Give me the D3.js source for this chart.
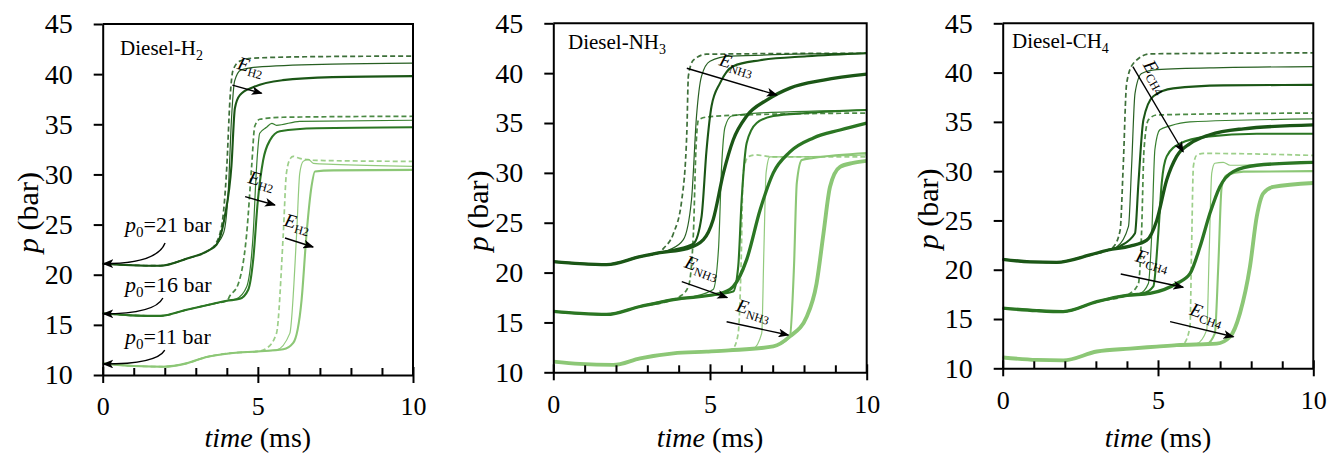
<!DOCTYPE html>
<html>
<head>
<meta charset="utf-8">
<script src="https://cdn.jsdelivr.net/npm/d3@7"></script>
<style>
  body { margin: 0; background: #fff; }
  svg text { font-family: "Liberation Serif", "Times New Roman", serif; }
</style>
</head>
<body>
<svg id="chart" width="1343" height="454"></svg>
<script>
// ---- data: [time (ms), p (bar)] ----
// Diesel-H2
const h2Base21 = [[0,21.1],[0.9,20.95],[1.85,20.9],[2.7,21.6],[3.4,22.4]];
const h2Dash21 = [[3.6,22.9],[3.83,24.8],[4.0,30.8],[4.1,37.4],[4.2,40.4],[4.42,41.3],[4.85,41.6],[7,41.75],[10,41.8]];
const h2Thin21 = [[3.62,22.9],[3.9,24.2],[4.05,28.5],[4.15,35.5],[4.25,39.3],[4.45,40.4],[4.96,40.7],[7.4,41.0],[10,41.1]];
const h2Thick21 = [[3.67,23.0],[3.94,25.9],[4.15,30.9],[4.26,36.6],[4.42,37.9],[4.85,38.7],[5.8,39.4],[7.4,39.7],[10,39.8]];
const h2Base16 = [[0,16.15],[0.9,15.95],[1.85,15.9],[2.7,16.5],[3.56,17.1],[4.0,17.4]];
const h2Dash16 = [[4.1,17.9],[4.37,19.1],[4.64,24.1],[4.8,30.8],[4.9,34.8],[5.06,35.5],[5.8,35.7],[10,35.8]];
const h2Thin16 = [[4.31,17.6],[4.64,18.8],[4.85,24.1],[4.96,30.8],[5.06,34.1],[5.28,34.7],[5.45,35.1],[5.6,34.9],[6.35,35.3],[10,35.4]];
const h2Thick16 = [[4.42,17.6],[4.69,18.5],[4.85,21.5],[5.0,27.4],[5.17,31.4],[5.39,33.4],[5.71,34.3],[6.89,34.6],[10,34.7]];
const h2Base11 = [[0,11.16],[0.99,10.9],[1.95,10.83],[2.7,11.16],[3.35,11.8],[4.2,12.2],[5.0,12.35]];
const h2Dash11 = [[5.28,12.66],[5.6,14.15],[5.82,24.1],[5.92,30.1],[6.05,31.6],[6.14,31.8],[6.35,31.6],[6.89,31.4],[10,31.3]];
const h2Thin11 = [[5.6,12.5],[6.03,14.15],[6.25,24.1],[6.35,30.1],[6.46,31.3],[6.63,31.5],[6.79,31.1],[7.43,31.0],[10,30.8]];
const h2Thick11 = [[5.82,12.56],[6.14,13.2],[6.41,17.5],[6.57,24.1],[6.73,28.8],[6.84,30.3],[7.43,30.4],[10,30.45]];

// Diesel-NH3
const nh3Base21 = [[0,21.1],[0.85,20.9],[1.7,20.8],[2.77,21.6],[3.4,22.0]];
const nh3Dash21 = [[3.51,22.4],[3.83,23.9],[4.1,27.3],[4.26,34.0],[4.31,39.7],[4.47,41.3],[4.89,41.9],[10,42.0]];
const nh3Thin21 = [[3.72,22.3],[4.15,23.3],[4.41,27.3],[4.57,35.7],[4.73,39.7],[5.0,41.2],[5.64,41.7],[10,42.0]];
const nh3Mid21 = [[3.83,22.3],[4.47,22.9],[4.73,25.6],[4.89,32.3],[5.05,36.7],[5.32,39.0],[5.74,40.7],[6.6,41.3],[8.09,41.7],[10,42.0]];
const nh3Thick21 = [[4.26,22.4],[4.79,23.3],[5.1,25.3],[5.43,30.0],[5.74,33.3],[6.17,35.7],[6.81,37.3],[7.55,38.5],[8.62,39.3],[10,39.9]];
const nh3Base16 = [[0,16.1],[0.85,15.9],[1.7,15.8],[2.77,16.6],[3.83,17.3]];
const nh3Dash16 = [[4.04,17.6],[4.31,18.6],[4.47,23.9],[4.55,32.3],[4.63,35.3],[4.89,35.6],[5.96,35.8],[10,36.0]];
const nh3Thin16 = [[4.47,17.6],[5.1,18.3],[5.27,22.3],[5.37,30.6],[5.48,34.6],[5.69,35.7],[6.49,36.0],[10,36.3]];
const nh3Mid16 = [[4.68,17.6],[5.74,18.1],[5.9,20.6],[6.01,27.3],[6.17,33.0],[6.49,35.0],[7.02,35.7],[8.09,36.0],[10,36.3]];
const nh3Thick16 = [[5.32,17.9],[5.74,18.6],[6.17,21.3],[6.6,26.3],[7.02,30.0],[7.55,32.1],[8.3,33.5],[9.15,34.3],[10,35.0]];
const nh3Base11 = [[0,11.07],[0.85,10.84],[1.91,10.74],[2.77,11.4],[3.83,11.9],[4.89,12.07],[5.6,12.2]];
const nh3Dash11 = [[5.74,12.4],[5.9,13.9],[5.99,20.6],[6.06,30.0],[6.22,31.6],[6.44,31.8],[7.02,31.6],[10,31.6]];
const nh3Thin11 = [[6.38,12.4],[6.65,13.9],[6.72,22.3],[6.79,30.0],[6.91,31.6],[7.55,31.6],[10,31.8]];
const nh3Mid11 = [[7.02,12.6],[7.55,13.6],[7.68,20.6],[7.77,29.0],[7.93,31.3],[8.3,31.5],[10,32.0]];
const nh3Thick11 = [[7.02,12.6],[7.55,13.6],[8.09,15.6],[8.4,18.9],[8.62,23.9],[8.83,28.6],[9.15,30.6],[9.57,31.0],[10,31.2]];

// Diesel-CH4
const ch4Base21 = [[0,21.06],[0.88,20.8],[1.74,20.75],[2.81,21.5],[3.4,22.0]];
const ch4Dash21 = [[3.56,22.3],[3.78,24.0],[3.88,30.5],[3.99,38.9],[4.2,40.9],[4.74,41.9],[10,42.0]];
const ch4Thin21 = [[3.67,22.3],[4.05,24.4],[4.15,30.5],[4.26,37.9],[4.47,39.9],[4.96,40.3],[7.1,40.5],[10,40.6]];
const ch4Mid21 = [[3.78,22.4],[4.26,23.7],[4.37,28.8],[4.53,35.2],[4.85,37.6],[5.49,38.4],[7.1,38.7],[10,38.75]];
const ch4Thick21 = [[4.1,22.4],[4.64,23.0],[4.96,25.0],[5.28,29.1],[5.6,31.5],[6.03,32.8],[6.67,33.7],[7.75,34.3],[10,34.7]];
const ch4Base16 = [[0,16.1],[1.09,15.85],[1.95,15.75],[3.03,16.76],[4.0,17.4]];
const ch4Dash16 = [[4.1,17.6],[4.37,18.6],[4.47,23.7],[4.55,32.2],[4.69,35.2],[4.96,35.7],[10,35.9]];
const ch4Thin16 = [[4.42,17.6],[4.69,18.6],[4.8,23.7],[4.9,32.2],[5.06,34.2],[5.39,34.6],[6.03,35.0],[10,35.3]];
const ch4Mid16 = [[4.53,17.6],[4.85,18.3],[5.01,23.7],[5.12,28.8],[5.28,31.5],[5.71,32.8],[6.57,33.5],[8.18,33.8],[10,33.8]];
const ch4Thick16 = [[4.74,17.6],[5.6,18.6],[6.03,19.6],[6.35,22.3],[6.67,25.7],[6.99,28.4],[7.42,29.95],[8.18,30.6],[10,30.9]];
const ch4Base11 = [[0,11.1],[1.09,10.85],[1.95,10.8],[3.03,11.7],[4.1,12.0],[4.96,12.2],[5.6,12.35]];
const ch4Dash11 = [[5.82,12.5],[6.03,14.2],[6.08,22.0],[6.14,30.5],[6.24,31.6],[6.46,31.8],[10,31.6]];
const ch4Thin11 = [[6.24,12.5],[6.57,13.9],[6.65,22.0],[6.73,29.8],[6.83,30.8],[7.1,30.9],[7.32,30.6],[10,30.8]];
const ch4Mid11 = [[6.57,12.5],[6.83,13.55],[6.94,20.3],[7.05,28.4],[7.21,29.6],[7.75,29.95],[10,30.0]];
const ch4Thick11 = [[6.89,12.5],[7.32,13.2],[7.64,15.6],[7.96,20.3],[8.18,25.4],[8.39,27.75],[8.71,28.4],[10,28.8]];

const yTicks = [10, 15, 20, 25, 30, 35, 40, 45];
const xTicks = [0, 1, 2, 3, 4, 5, 6, 7, 8, 9, 10];
const xLabels = [0, 5, 10];

// ---- look ----
const serif = "'Liberation Serif', 'Times New Roman', serif";
const groupColor = {"21": "#1b5616", "16": "#2b7623", "11": "#8cc776"};
const lineStyle = {
  dash:  {w: 1.7, dash: "5,3", op: 0.85},
  thin:  {w: 1.2, dash: null, op: 0.95},
  mid:   {w: 2.1, dash: null, op: 1},
  thick: {w: 3.3, dash: null, op: 1}
};

const svg = d3.select("#chart");
svg.append("defs").append("marker")
  .attr("id", "arr")
  .attr("viewBox", "0 0 10 8")
  .attr("refX", 9).attr("refY", 4)
  .attr("markerWidth", 11).attr("markerHeight", 9)
  .attr("markerUnits", "userSpaceOnUse")
  .attr("orient", "auto")
  .append("path")
  .attr("d", "M0,0 L10,4 L0,8 L2.5,4 Z")
  .attr("fill", "#000");

const panels = [
  {left: 102.7, right: 413, top: 24, bottom: 375, gas: "H", sub: "2", eSub: "H2",
   curves: [
     [h2Base21, h2Dash21, "21", "dash"], [h2Base21, h2Thin21, "21", "thin"], [h2Base21, h2Thick21, "21", "mid"],
     [h2Base16, h2Dash16, "16", "dash"], [h2Base16, h2Thin16, "16", "thin"], [h2Base16, h2Thick16, "16", "mid"],
     [h2Base11, h2Dash11, "11", "dash"], [h2Base11, h2Thin11, "11", "thin"], [h2Base11, h2Thick11, "11", "mid"]
   ],
   label: [0.56, 41.9],
   arrows: [  // [t0, p0, t1, p1, labelT, labelP, rotation]
     [4.18, 38.91, 5.12, 38.09, 4.72, 40.2, 15],
     [4.59, 27.78, 5.55, 26.95, 5.07, 28.84, 15],
     [5.875, 23.66, 6.78, 22.76, 6.23, 24.56, 15]
   ],
   p0: [[21, 0.72, 24.26, 2.01, 23.16], [16, 0.72, 18.28, 1.94, 17.68], [11, 0.72, 13.09, 2.0, 12.49]]
  },
  {left: 553.3, right: 866.7, top: 23.3, bottom: 372.3, gas: "NH", sub: "3", eSub: "NH3",
   curves: [
     [nh3Base21, nh3Dash21, "21", "dash"], [nh3Base21, nh3Thin21, "21", "thin"], [nh3Base21, nh3Mid21, "21", "mid"], [nh3Base21, nh3Thick21, "21", "thick"],
     [nh3Base16, nh3Dash16, "16", "dash"], [nh3Base16, nh3Thin16, "16", "thin"], [nh3Base16, nh3Mid16, "16", "mid"], [nh3Base16, nh3Thick16, "16", "thick"],
     [nh3Base11, nh3Dash11, "11", "dash"], [nh3Base11, nh3Thin11, "11", "thin"], [nh3Base11, nh3Mid11, "11", "mid"], [nh3Base11, nh3Thick11, "11", "thick"]
   ],
   label: [0.47, 42.4],
   arrows: [
     [4.26, 40.49, 7.13, 37.81, 5.8, 40.3, 17],
     [4.1, 19.09, 5.55, 17.48, 4.68, 19.96, 20],
     [5.53, 15.07, 7.5, 13.74, 6.34, 15.65, 17]
   ],
   p0: []
  },
  {left: 1002.7, right: 1313.3, top: 23.3, bottom: 368.3, gas: "CH", sub: "4", eSub: "CH4",
   curves: [
     [ch4Base21, ch4Dash21, "21", "dash"], [ch4Base21, ch4Thin21, "21", "thin"], [ch4Base21, ch4Mid21, "21", "mid"], [ch4Base21, ch4Thick21, "21", "thick"],
     [ch4Base16, ch4Dash16, "16", "dash"], [ch4Base16, ch4Thin16, "16", "thin"], [ch4Base16, ch4Mid16, "16", "mid"], [ch4Base16, ch4Thick16, "16", "thick"],
     [ch4Base11, ch4Dash11, "11", "dash"], [ch4Base11, ch4Thin11, "11", "thin"], [ch4Base11, ch4Mid11, "11", "mid"], [ch4Base11, ch4Thick11, "11", "thick"]
   ],
   label: [0.3, 42.5],
   arrows: [
     [4.19, 40.6, 5.81, 31.97, 4.78, 39.3, 60],
     [3.8, 19.57, 5.81, 18.22, 4.77, 20.38, 17],
     [5.39, 14.73, 7.43, 13.2, 6.51, 14.9, 20]
   ],
   p0: []
  }
];

panels.forEach(drawPanel);

function drawPanel(cfg) {
  const x = d3.scaleLinear().domain([0, 10]).range([cfg.left, cfg.right]);
  const y = d3.scaleLinear().domain([10, 45]).range([cfg.bottom, cfg.top]);
  const g = svg.append("g");

  const line = d3.line()
    .x(d => x(d[0]))
    .y(d => y(d[1]))
    .curve(d3.curveMonotoneX);

  // light groups first so the dark ones sit on top
  ["11", "16", "21"].forEach(grp => {
    cfg.curves.filter(c => c[2] === grp).forEach(c => {
      const st = lineStyle[c[3]];
      let w = st.w;
      if (c[3] === "thick" && grp === "11") w = 3.9;
      g.append("path")
        .attr("d", line(c[0].concat(c[1])))
        .attr("fill", "none")
        .attr("stroke", groupColor[grp])
        .attr("stroke-width", w)
        .attr("stroke-opacity", st.op)
        .attr("stroke-dasharray", st.dash)
        .attr("stroke-linejoin", "round");
    });
  });

  // frame (top and right)
  g.append("path")
    .attr("d", `M${x(0)},${y(45)}H${x(10)}V${y(10)}`)
    .attr("fill", "none").attr("stroke", "#000").attr("stroke-width", 2);

  // x axis
  const xAxis = g.append("g")
    .attr("transform", `translate(0,${y(10)})`)
    .call(d3.axisBottom(x).tickValues(xTicks).tickSizeInner(-7).tickSizeOuter(0).tickPadding(22)
      .tickFormat(d => xLabels.includes(d) ? d : ""))
    .attr("font-family", serif).attr("font-size", 26);
  xAxis.select(".domain").attr("stroke-width", 2);
  xAxis.selectAll(".tick line")
    .attr("stroke-width", 2)
    .attr("y1", d => xLabels.includes(d) ? 8 : 0)
    .attr("y2", d => xLabels.includes(d) ? -8 : -7);

  // y axis
  const yAxis = g.append("g")
    .attr("transform", `translate(${x(0)},0)`)
    .call(d3.axisLeft(y).tickValues(yTicks).tickSizeInner(9).tickSizeOuter(0).tickPadding(21))
    .attr("font-family", serif).attr("font-size", 28);
  yAxis.select(".domain").attr("stroke-width", 2);
  yAxis.selectAll(".tick line").attr("stroke-width", 2);

  // axis titles
  const xt = g.append("text")
    .attr("x", (x(0) + x(10)) / 2).attr("y", 447)
    .attr("text-anchor", "middle").attr("font-size", 28);
  xt.append("tspan").attr("font-style", "italic").text("time");
  xt.append("tspan").text(" (ms)");

  const yt = g.append("text")
    .attr("transform", `translate(${x(0) - 65},${(y(10) + y(45)) / 2 + 13}) rotate(-90)`)
    .attr("text-anchor", "middle").attr("font-size", 30);
  yt.append("tspan").attr("font-style", "italic").text("p");
  yt.append("tspan").text(" (bar)");

  // panel label
  const lab = g.append("text")
    .attr("x", x(cfg.label[0])).attr("y", y(cfg.label[1]))
    .attr("font-size", 21);
  lab.append("tspan").text("Diesel-" + cfg.gas);
  lab.append("tspan").attr("font-size", 14).attr("dy", 5).text(cfg.sub);

  // E arrows
  cfg.arrows.forEach(a => {
    g.append("line")
      .attr("x1", x(a[0])).attr("y1", y(a[1]))
      .attr("x2", x(a[2])).attr("y2", y(a[3]))
      .attr("stroke", "#000").attr("stroke-width", 1.4)
      .attr("marker-end", "url(#arr)");
    const t = g.append("text")
      .attr("transform", `translate(${x(a[4])},${y(a[5])}) rotate(${a[6]})`)
      .attr("text-anchor", "middle").attr("font-size", 19);
    t.append("tspan").attr("font-style", "italic").text("E");
    t.append("tspan").attr("font-size", 12).attr("dy", 4).text(cfg.eSub);
  });

  // p0 callouts
  cfg.p0.forEach(p => {
    const t = g.append("text")
      .attr("x", x(p[1])).attr("y", y(p[2]))
      .attr("font-size", 22);
    t.append("tspan").attr("font-style", "italic").text("p");
    t.append("tspan").attr("font-size", 15).attr("dy", 5).text("0");
    t.append("tspan").attr("dy", -5).text("=" + p[0] + " bar");
    const sx = x(p[3]), sy = y(p[4]), ex = x(0.02), ey = y(p[0] + 0.1);
    g.append("path")
      .attr("d", `M${sx},${sy} Q${sx - 8},${ey} ${ex},${ey}`)
      .attr("fill", "none").attr("stroke", "#000").attr("stroke-width", 1.4)
      .attr("marker-end", "url(#arr)");
  });
}
</script>
</body>
</html>
